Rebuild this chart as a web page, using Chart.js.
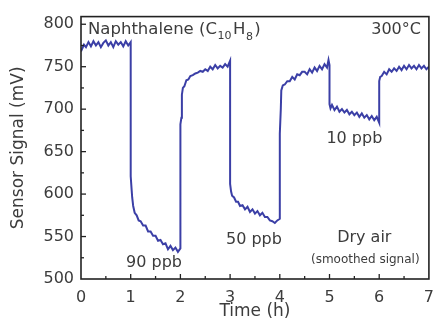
<!DOCTYPE html>
<html>
<head>
<meta charset="utf-8">
<script src="https://cdn.jsdelivr.net/npm/chart.js@4"></script>
<style>
    html, body { margin: 0; padding: 0; background: #fff; }
    #wrap { width: 443px; height: 322px; }
</style>
</head>
<body>
<div id="wrap"><canvas id="myChart"></canvas></div>
<script>
// Datos (tiempo en horas, senal en mV)
const timeH = [
    0.00, 0.03, 0.06, 0.10, 0.15, 0.20, 0.25, 0.30, 0.35, 0.40, 0.45, 0.50, 0.55, 0.60, 0.65, 0.70, 0.75, 0.80, 0.85, 0.90, 0.95, 1.00,
    1.00, 1.02, 1.03, 1.05, 1.08, 1.12, 1.16, 1.20, 1.25, 1.30, 1.35, 1.40, 1.45, 1.50, 1.55, 1.60, 1.65, 1.70, 1.75, 1.80, 1.85, 1.90, 1.95, 2.00,
    2.00, 2.02, 2.03, 2.05, 2.08, 2.12, 2.16, 2.20, 2.25, 2.30, 2.35, 2.40, 2.45, 2.50, 2.55, 2.60, 2.65, 2.70, 2.75, 2.80, 2.85, 2.90, 2.95, 3.00,
    3.00, 3.02, 3.04, 3.08, 3.12, 3.16, 3.20, 3.25, 3.30, 3.35, 3.40, 3.45, 3.50, 3.55, 3.60, 3.65, 3.70, 3.75, 3.80, 3.85, 3.90, 3.95, 4.00,
    4.00, 4.02, 4.03, 4.06, 4.10, 4.15, 4.20, 4.25, 4.30, 4.35, 4.40, 4.45, 4.50, 4.55, 4.60, 4.65, 4.70, 4.75, 4.80, 4.85, 4.90, 4.95, 4.98, 5.00,
    5.00, 5.02, 5.05, 5.10, 5.15, 5.20, 5.25, 5.30, 5.35, 5.40, 5.45, 5.50, 5.55, 5.60, 5.65, 5.70, 5.75, 5.80, 5.85, 5.90, 5.95, 6.00,
    6.00, 6.02, 6.05, 6.10, 6.15, 6.20, 6.25, 6.30, 6.35, 6.40, 6.45, 6.50, 6.55, 6.60, 6.65, 6.70, 6.75, 6.80, 6.85, 6.90, 6.95, 7.00,
]
const signalMV = [
    768, 772, 776, 773, 779, 774, 780, 775, 779, 773, 778, 781, 775, 779, 773, 780, 776, 779, 774, 780, 775, 779,
    621, 604, 596, 586, 578, 575, 569, 568, 563, 563, 556, 556, 551, 551, 545, 546, 541, 542, 535, 539, 534, 537, 532, 536,
    682, 690, 717, 725, 727, 734, 735, 739, 740, 742, 743, 745, 744, 747, 745, 750, 747, 752, 748, 751, 749, 753, 750, 757,
    612, 603, 598, 596, 591, 591, 586, 587, 582, 585, 579, 582, 577, 580, 575, 578, 573, 573, 569, 568, 566, 569, 571,
    671, 700, 722, 728, 729, 733, 733, 738, 735, 741, 740, 744, 744, 741, 747, 743, 749, 745, 751, 747, 753, 749, 758, 752,
    706, 701, 705, 699, 703, 697, 700, 696, 699, 694, 697, 693, 696, 691, 695, 690, 693, 688, 692, 687, 691, 684,
    733, 738, 739, 744, 741, 747, 744, 748, 745, 750, 746, 751, 747, 752, 748, 751, 747, 752, 748, 751, 747, 750,
]

// Ejes
const xTicks = [0, 1, 2, 3, 4, 5, 6, 7]
const yTicks = [500, 550, 600, 650, 700, 750, 800]

// Textos de la figura
const ppbLabels = ['90 ppb', '50 ppb', '10 ppb']

const textColor = '#3c3c3c'
const lineColor = '#3b3fa6'
const fontFamily = '"DejaVu Sans", sans-serif'

const points = timeH.map((t, i) => ({ x: t, y: signalMV[i] }))

// Plugin: marco, marcas hacia dentro y anotaciones
const framePlugin = {
    id: 'frame',
    afterDatasetsDraw(chart) {
        const { ctx, chartArea: a, scales } = chart
        const x = scales.x
        const y = scales.y

        ctx.save()
        // marcas del eje x
        ctx.strokeStyle = '#222'
        ctx.lineWidth = 1.3
        for (let v = 0.5; v < 7; v += 0.5) {
            const px = x.getPixelForValue(v)
            const len = Number.isInteger(v) ? 5 : 3
            ctx.beginPath()
            ctx.moveTo(px, a.bottom)
            ctx.lineTo(px, a.bottom - len)
            ctx.stroke()
        }
        // marcas del eje y
        for (let v = 525; v < 805; v += 25) {
            const py = y.getPixelForValue(v)
            const len = v % 50 === 0 ? 5 : 3
            ctx.beginPath()
            ctx.moveTo(a.left, py)
            ctx.lineTo(a.left + len, py)
            ctx.stroke()
        }
        // marco
        ctx.lineWidth = 1.6
        ctx.strokeRect(a.left, a.top, a.right - a.left, a.bottom - a.top)

        // anotaciones
        ctx.fillStyle = textColor
        ctx.textBaseline = 'alphabetic'

        // titulo con subindices
        ctx.textAlign = 'left'
        let cx = a.left + 7
        const base = a.top + 17
        const parts = [
            ['Naphthalene (C', 16.5, 0],
            ['10', 11, 5],
            ['H', 16.5, 0],
            ['8', 11, 6],
            [')', 16.5, 0],
        ]
        parts.forEach(([txt, size, dy]) => {
            ctx.font = `${size}px ${fontFamily}`
            ctx.fillText(txt, cx, base + dy)
            cx += ctx.measureText(txt).width + (size < 16 ? 1.5 : 0.5)
        })

        ctx.textAlign = 'right'
        ctx.font = `16px ${fontFamily}`
        ctx.fillText('300°C', a.right - 8, base)

        ctx.textAlign = 'center'
        ctx.fillText(ppbLabels[0], x.getPixelForValue(1.47), y.getPixelForValue(514))
        ctx.fillText(ppbLabels[1], x.getPixelForValue(3.48), y.getPixelForValue(541))
        ctx.fillText(ppbLabels[2], x.getPixelForValue(5.5), y.getPixelForValue(660))
        ctx.fillText('Dry air', x.getPixelForValue(5.7), y.getPixelForValue(544))
        ctx.font = `12px ${fontFamily}`
        ctx.fillText('(smoothed signal)', x.getPixelForValue(5.72), y.getPixelForValue(519))
        ctx.restore()
    },
}

const ctx = document.getElementById('myChart')

// eslint-disable-next-line no-new, no-undef
new Chart(ctx, {
    type: 'line',
    data: {
        datasets: [
            {
                label: 'Sensor signal',
                data: points,
                borderColor: lineColor,
                borderWidth: 2,
                pointRadius: 0,
                tension: 0,
                fill: false,
            },
        ],
    },
    options: {
        responsive: true,
        maintainAspectRatio: false,
        animation: false,
        layout: {
            autoPadding: false,
            padding: { top: 14, right: 1, left: 0, bottom: 0 },
        },
        plugins: {
            legend: { display: false },
            tooltip: { enabled: false },
        },
        scales: {
            x: {
                type: 'linear',
                min: 0,
                max: 7,
                afterBuildTicks: scale => {
                    scale.ticks = xTicks.map(v => ({ value: v }))
                },
                afterFit: scale => {
                    scale.height = 43
                },
                grid: { display: false, drawTicks: false },
                border: { display: false },
                ticks: {
                    padding: 9,
                    color: textColor,
                    font: { family: fontFamily, size: 16 },
                    maxRotation: 0,
                },
                title: {
                    display: true,
                    text: 'Time (h)',
                    color: textColor,
                    font: { family: fontFamily, size: 17 },
                    padding: { top: 0, bottom: 0 },
                },
            },
            y: {
                type: 'linear',
                min: 500,
                max: 809,
                afterBuildTicks: scale => {
                    scale.ticks = yTicks.map(v => ({ value: v }))
                },
                afterFit: scale => {
                    scale.width = 81
                },
                grid: { display: false, drawTicks: false },
                border: { display: false },
                ticks: {
                    padding: 7,
                    color: textColor,
                    font: { family: fontFamily, size: 16 },
                },
                title: {
                    display: true,
                    text: 'Sensor Signal (mV)',
                    color: textColor,
                    font: { family: fontFamily, size: 17 },
                    padding: { top: 8, bottom: 0 },
                },
            },
        },
    },
    plugins: [framePlugin],
})
</script>
</body>
</html>
